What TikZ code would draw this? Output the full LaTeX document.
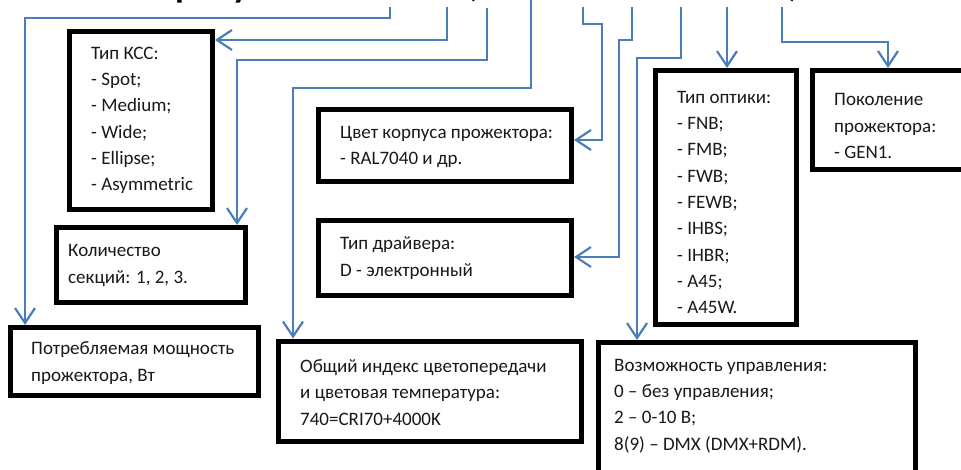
\documentclass[tikz,border=0pt]{standalone}
\usepackage{fontspec}
\setmainfont{Carlito}
\usetikzlibrary{arrows.meta}
\definecolor{lineblue}{RGB}{74,126,187}
\definecolor{textgray}{RGB}{25,25,25}
\tikzset{
  box/.style={draw=black, line width=5pt, rectangle, fill=white, inner sep=0pt},
  txt/.style={anchor=west, align=left, inner sep=0pt, text=textgray, font=\fontsize{19}{26.3}\selectfont},
  conn/.style={draw=lineblue, line width=2.2pt, -{Straight Barb[length=15pt,width=20pt,line width=2.2pt]}},
  ttl/.style={inner sep=0pt, anchor=base west, font=\fontsize{36}{40}\selectfont\bfseries}
}
\begin{document}
\begin{tikzpicture}[x=1pt,y=-1pt]
\useasboundingbox (0,0) rectangle (961,470);
% title fragments (cut off by the top edge)
\node[ttl] (t1) at (175,-2) {р};
\node[ttl] (t2) at (232,-2) {у};
\node[ttl] (t3) at (466,-3) {(};
\node[ttl] (t4) at (788,-3) {)};
% boxes
\node[box, minimum width=143, minimum height=178] (kss) at (141,120.5) {};
\node[box, minimum width=189, minimum height=75] (kol) at (151,265) {};
\node[box, minimum width=248, minimum height=68] (pot) at (134.5,361.5) {};
\node[box, minimum width=253, minimum height=72] (cvet) at (445,145.5) {};
\node[box, minimum width=253, minimum height=75] (drv) at (445,258.5) {};
\node[box, minimum width=303, minimum height=100] (obsh) at (430,391) {};
\node[box, minimum width=141, minimum height=254] (opt) at (726,197.5) {};
\node[box, minimum width=160, minimum height=99] (pok) at (892.5,120) {};
\node[box, minimum width=317, minimum height=145] (voz) at (757,415) {};
% texts
\node[txt] (kssT) at (91,120.5) {Тип КСС:\\- Spot;\\- Medium;\\- Wide;\\- Ellipse;\\- Asymmetric};
\node[txt] (kolT) at (68,265.5) {Количество\\секций: 1, 2, 3.};
\node[txt] (potT) at (31,363) {Потребляемая мощность\\прожектора, Вт};
\node[txt] (cvetT) at (340,147) {Цвет корпуса прожектора:\\- RAL7040 и др.};
\node[txt] (drvT) at (340,258) {Тип драйвера:\\D - электронный};
\node[txt] (obshT) at (300,392.5) {Общий индекс цветопередачи\\и цветовая температура:\\740=CRI70+4000K};
\node[txt] (optT) at (677,202.5) {Тип оптики:\\- FNB;\\- FMB;\\- FWB;\\- FEWB;\\- IHBS;\\- IHBR;\\- A45;\\- A45W.};
\node[txt] (pokT) at (834,126) {Поколение\\прожектора:\\- GEN1.};
\node[txt] (vozT) at (614,406) {Возможность управления:\\0 – без управления;\\2 – 0-10 В;\\8(9) – DMX (DMX+RDM).};
% connector coordinates
\coordinate (sA) at (390,7);  \coordinate (cA) at (25,18);
\coordinate (sB) at (447,7);  \coordinate (cB) at (0,40);
\coordinate (sC) at (487,8);  \coordinate (cC) at (237,60);
\coordinate (sD) at (531,0);  \coordinate (cD) at (293,88);
\coordinate (sE) at (583,7);  \coordinate (cE1) at (602,24); \coordinate (cE2) at (0,140);
\coordinate (sF) at (632,7);  \coordinate (cF1) at (619,40); \coordinate (cF2) at (0,257);
\coordinate (sG) at (681,7);  \coordinate (cG) at (637,58);
\coordinate (sH) at (727,7);
\coordinate (sI) at (782,7);  \coordinate (cI) at (888,42);
% connectors
\draw[conn] (sA) |- (cA) -- (pot.north -| cA);
\draw[conn] (sB) |- (kss.east |- cB);
\draw[conn] (sC) |- (cC) -- (kol.north -| cC);
\draw[conn] (sD) |- (cD) -- (obsh.north -| cD);
\draw[conn] (sE) |- (cE1) |- (cvet.east |- cE2);
\draw[conn] (sF) |- (cF1) |- (drv.east |- cF2);
\draw[conn] (sG) |- (cG) -- (voz.north -| cG);
\draw[conn] (sH) -- (opt.north -| sH);
\draw[conn] (sI) |- (cI) -- (pok.north -| cI);
\end{tikzpicture}
\end{document}
